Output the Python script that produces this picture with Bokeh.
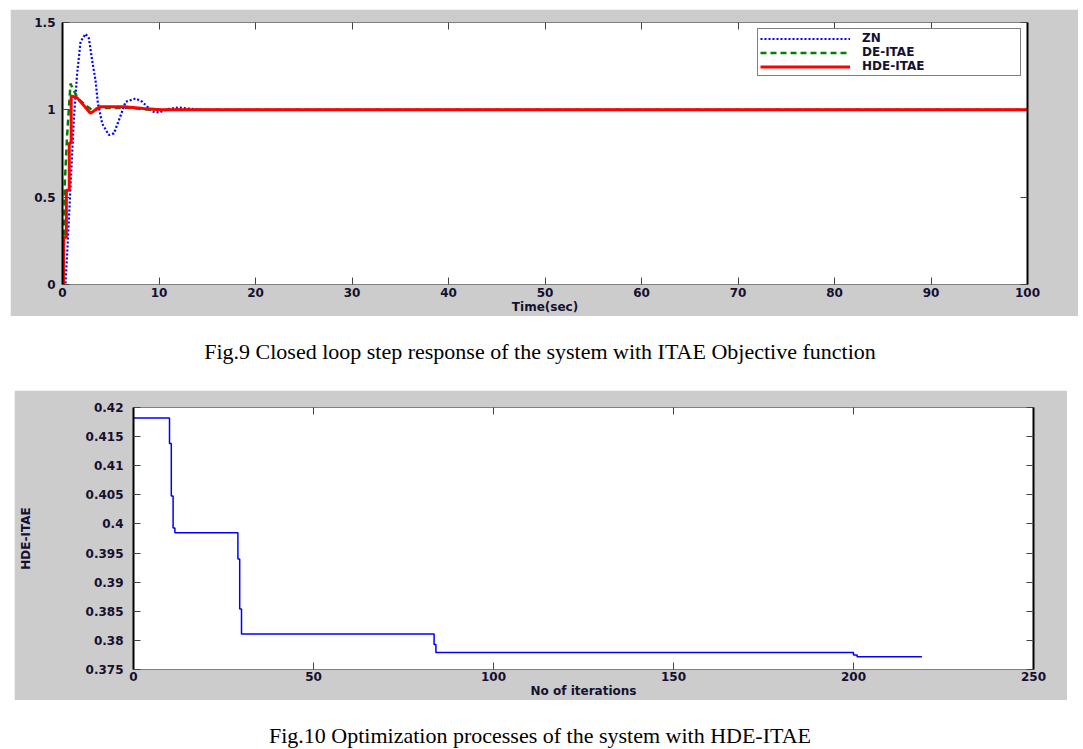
from bokeh.plotting import figure
from bokeh.models import FixedTicker, LinearAxis, Range1d, Legend, LegendItem, Div
from bokeh.embed import file_html
from bokeh.resources import INLINE

# ---------------- Fig.9 data (closed loop step response) ----------------
zn_t = [0, 0.3, 0.45, 0.83, 1.17, 1.52, 1.87, 2.39, 2.73, 3.08, 3.42, 3.66, 4.12, 4.8,
        5.33, 5.84, 6.54, 7.57, 8.27, 9.3, 10.0, 11.0, 12.0, 13.5, 15.0, 100.0]
zn_y = [0, 0, 0.14, 0.56, 0.94, 1.21, 1.39, 1.435, 1.41, 1.28, 1.17, 1.04, 0.92, 0.856,
        0.865, 0.94, 1.046, 1.065, 1.046, 0.99, 0.985, 1.005, 1.013, 1.005, 1.0, 1.0]

de_t = [0, 0.1, 0.24, 0.48, 0.83, 1.17, 1.6, 2.39, 3.08, 3.7, 7.3, 9.0, 100.0]
de_y = [0, 0, 0.58, 0.856, 1.15, 1.11, 1.065, 1.027, 0.998, 1.01, 1.01, 1.0, 1.0]

hde_t = [0, 0.1, 0.1, 0.4, 0.4, 0.7, 0.7, 0.9, 0.9, 1.5, 2.9, 3.9, 6.4, 8.4, 10.2, 100.0]
hde_y = [0, 0, 0.27, 0.27, 0.54, 0.54, 0.81, 0.81, 1.08, 1.07, 0.98, 1.017, 1.017, 1.007, 1.0, 1.0]

fig9_xticks = [0, 10, 20, 30, 40, 50, 60, 70, 80, 90, 100]
fig9_yticks = [0, 0.5, 1, 1.5]
fig9_ylabels = ["0", "0.5", "1", "1.5"]
series_names = ["ZN", "DE-ITAE", "HDE-ITAE"]

# ---------------- Fig.10 data (optimization process) ----------------
iters = [0, 10, 10.5, 11, 11.5, 29, 29.5, 30, 83.5, 84, 200, 201, 219]
hde_itae = [0.4182, 0.4138, 0.4048, 0.3993, 0.3985, 0.3940, 0.3854, 0.3811,
            0.3793, 0.3779, 0.3775, 0.3772, 0.3772]

fig10_xticks = [0, 50, 100, 150, 200, 250]
fig10_yticks = [0.375, 0.38, 0.385, 0.39, 0.395, 0.4, 0.405, 0.41, 0.415, 0.42]
fig10_ylabels = ["0.375", "0.38", "0.385", "0.39", "0.395", "0.4", "0.405", "0.41", "0.415", "0.42"]

caption9 = "Fig.9 Closed loop step response of the system with ITAE Objective function"
caption10 = "Fig.10 Optimization processes of the system with HDE-ITAE"

GRAY = "#cccccc"
TXT = "#141030"
FONT = "DejaVu Sans"
FS = "12px"


def style_axis(ax, labels=True):
    ax.major_tick_in = 7
    ax.major_tick_out = 0
    ax.minor_tick_in = 0
    ax.minor_tick_out = 0
    ax.major_tick_line_color = "#444444"
    ax.major_label_text_font = FONT
    ax.major_label_text_font_style = "bold"
    ax.major_label_text_font_size = FS if labels else "1px"
    ax.major_label_text_color = TXT
    ax.axis_label_text_font = FONT
    ax.axis_label_text_font_size = FS
    ax.axis_label_text_font_style = "bold"
    ax.axis_label_text_color = TXT


def make_fig(width, height, xr, yr, xt, yt, ylabels, b_left, b_right, b_top, b_bottom, margin):
    p = figure(width=width, height=height, output_backend="svg", toolbar_location=None,
               x_range=Range1d(*xr), y_range=Range1d(*yr),
               x_axis_location=None, y_axis_location=None,
               min_border_left=b_left, min_border_right=b_right,
               min_border_top=b_top, min_border_bottom=b_bottom,
               border_fill_color=GRAY, background_fill_color="white",
               outline_line_color="#808080", margin=margin)
    p.grid.visible = False
    bottom = LinearAxis(ticker=FixedTicker(ticks=xt), axis_line_color="#808080",
                        major_label_overrides={t: str(t) for t in xt})
    style_axis(bottom)
    p.add_layout(bottom, "below")
    left = LinearAxis(ticker=FixedTicker(ticks=yt), axis_line_color="black", axis_line_width=2,
                      major_label_overrides={t: l for t, l in zip(yt, ylabels)})
    style_axis(left)
    p.add_layout(left, "left")
    top = LinearAxis(ticker=FixedTicker(ticks=xt), axis_line_color="#808080", major_label_standoff=0,
                     major_label_overrides={t: "" for t in xt})
    style_axis(top, labels=False)
    p.add_layout(top, "above")
    right = LinearAxis(ticker=FixedTicker(ticks=yt), axis_line_color="black", axis_line_width=2,
                       major_label_standoff=0, major_label_overrides={t: "" for t in yt})
    style_axis(right, labels=False)
    p.add_layout(right, "right")
    return p, bottom, left


# ---------------- Fig.9 ----------------
p1, p1_bottom, p1_left = make_fig(1068, 307, (0, 100), (0, 1.5), fig9_xticks, fig9_yticks, fig9_ylabels,
                                  52, 51, 13, 31, (9, 0, 0, 10))
p1_bottom.axis_label = "Time(sec)"
p1_bottom.major_label_standoff = 3
p1_bottom.axis_label_standoff = 0
p1_left.major_label_standoff = 7

r_zn = p1.line(zn_t, zn_y, line_color="#0000ff", line_width=2.2, line_dash="2 2")
r_de = p1.line(de_t, de_y, line_color="#008000", line_width=2.5, line_dash="6 4")
r_hde = p1.line(hde_t, hde_y, line_color="#ff0000", line_width=3)

legend = Legend(items=[LegendItem(label=series_names[0], renderers=[r_zn]),
                       LegendItem(label=series_names[1], renderers=[r_de]),
                       LegendItem(label=series_names[2], renderers=[r_hde])],
                location="top_right", orientation="vertical",
                border_line_color="black", border_line_width=1, background_fill_color="white",
                background_fill_alpha=1.0, label_text_font=FONT, label_text_font_size="12px",
                label_text_font_style="bold",
                label_text_color=TXT, glyph_width=90, glyph_height=13, label_height=13,
                label_width=156, label_standoff=12, padding=2, spacing=0, margin=6)
p1.add_layout(legend)

# ---------------- Fig.10 ----------------
p2, p2_bottom, p2_left = make_fig(1053, 310, (0, 250), (0.375, 0.42), fig10_xticks, fig10_yticks,
                                  fig10_ylabels, 119, 34, 17, 30, (0, 0, 0, 14))
p2_bottom.axis_label = "No of iterations"
p2_bottom.major_label_standoff = 2
p2_bottom.axis_label_standoff = 0
p2_left.axis_label = "HDE-ITAE"
p2_left.major_label_standoff = 10
p2_left.axis_label_standoff = 50

p2.step(iters, hde_itae, mode="after", line_color="#0000ff", line_width=1.5)

cap_style = ("font-family:'Liberation Serif';font-size:22px;color:#000;text-align:center;"
             "line-height:22px;width:1054px;margin-left:8px;")
d1 = Div(text=f"<div style=\"{cap_style}padding-top:20px;\">{caption9}</div>", width=1062, height=64)
d2 = Div(text=f"<div style=\"{cap_style}padding-top:20px;\">{caption10}</div>", width=1062, height=36)

open("out.html", "w").write(file_html([p1, d1, p2, d2], INLINE))
